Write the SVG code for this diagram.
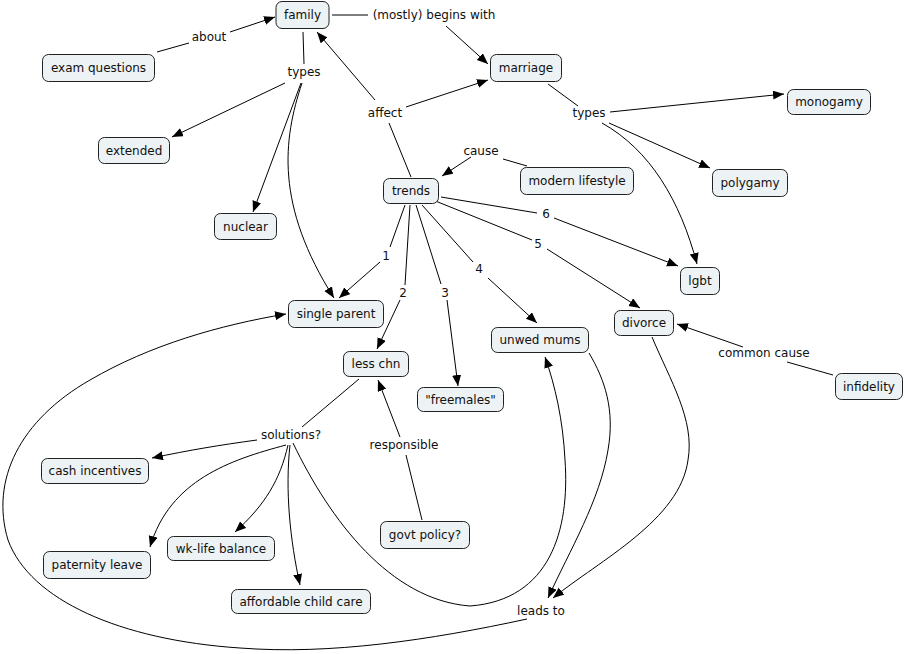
<svg xmlns="http://www.w3.org/2000/svg" width="905" height="654" viewBox="0 0 905 654">
<defs>
<marker id="ah" markerUnits="userSpaceOnUse" markerWidth="12" markerHeight="10" refX="11" refY="4.5" orient="auto">
<path d="M0,0 L11,4.5 L0,9 z" fill="#000"/>
</marker>
<style>
.n rect{fill:#edf2f4;stroke:#222;stroke-width:1}
text{font-family:"DejaVu Sans",Verdana,sans-serif;font-size:12px;fill:#111;text-anchor:middle}
#connectors path{fill:none;stroke:#000;stroke-width:1}
#connectors .a{marker-end:url(#ah)}
</style>
</defs>
<rect width="905" height="654" fill="#fff"/>
<g id="connectors">
<path d="M157,52 L189,43"/>
<path class="a" d="M230,32 L275,17"/>
<path d="M332,15 L368,15"/>
<path class="a" d="M446,26 L488,64"/>
<path d="M303,32 L304,64"/>
<path class="a" d="M285,83 L172,137"/>
<path class="a" d="M301,83 L253,212"/>
<path class="a" d="M302,83 C283,140 275,205 334,298"/>
<path d="M411,177 L389,123"/>
<path class="a" d="M375,100 L317,32"/>
<path class="a" d="M406,107 L488,80"/>
<path d="M548,84 L578,106"/>
<path class="a" d="M610,112 L784,94"/>
<path class="a" d="M609,123 L710,168"/>
<path class="a" d="M602,123 C650,150 680,200 697,264"/>
<path d="M527,166 L503,159"/>
<path class="a" d="M471,157 L442,176"/>
<path d="M405,205 L390,247"/>
<path class="a" d="M380,262 L339,298"/>
<path d="M410,205 L405,285"/>
<path class="a" d="M400,300 L377,349"/>
<path d="M416,205 L441,284"/>
<path class="a" d="M447,300 L458,386"/>
<path d="M422,205 L473,262"/>
<path class="a" d="M488,278 L537,323"/>
<path d="M433,200 L532,240"/>
<path class="a" d="M547,249 L640,308"/>
<path d="M441,197 L537,213"/>
<path class="a" d="M554,218 L678,266"/>
<path d="M833,375 L787,362"/>
<path class="a" d="M743,347 L677,324"/>
<path d="M359,379 L302,427"/>
<path d="M422,520 L406,455"/>
<path class="a" d="M400,437 L378,380"/>
<path class="a" d="M257,440 C220,445 190,450 152,458"/>
<path class="a" d="M286,445 C230,460 170,480 150,547"/>
<path class="a" d="M288,445 C280,480 265,505 235,532"/>
<path class="a" d="M290,445 C285,490 290,540 300,585"/>
<path class="a" d="M293,443 C330,520 390,600 470,606 C550,600 570,530 565,460 C563,420 555,385 545,357"/>
<path class="a" d="M589,353 C605,380 615,410 608,450 C600,500 570,550 548,598"/>
<path class="a" d="M652,337 C670,380 695,420 688,460 C680,520 600,560 553,598"/>
<path class="a" d="M527,619 C430,640 330,655 240,648 C120,640 30,600 8,540 C-10,480 20,420 90,380 C150,345 220,325 286,314"/>
</g>
<g id="family" class="n"><rect x="276" y="1.5" width="53" height="27" rx="6"/><text x="302.5" y="19">family</text></g>
<g id="exam-questions" class="n"><rect x="42.5" y="54.5" width="112" height="27" rx="6"/><text x="98.5" y="72">exam questions</text></g>
<g id="extended" class="n"><rect x="98.5" y="137.5" width="71" height="26" rx="6"/><text x="134" y="155">extended</text></g>
<g id="marriage" class="n"><rect x="490.5" y="54.5" width="71" height="27" rx="6"/><text x="526" y="72">marriage</text></g>
<g id="monogamy" class="n"><rect x="787.5" y="89.5" width="83" height="25" rx="6"/><text x="829" y="106">monogamy</text></g>
<g id="modern-lifestyle" class="n"><rect x="520.5" y="167.5" width="113" height="27" rx="6"/><text x="577" y="185">modern lifestyle</text></g>
<g id="polygamy" class="n"><rect x="712.5" y="169.5" width="75" height="27" rx="6"/><text x="750" y="187">polygamy</text></g>
<g id="trends" class="n"><rect x="383.5" y="178.5" width="55" height="25" rx="6"/><text x="411" y="195">trends</text></g>
<g id="nuclear" class="n"><rect x="214.5" y="213.5" width="62" height="26" rx="6"/><text x="245.5" y="231">nuclear</text></g>
<g id="single-parent" class="n"><rect x="288.5" y="300.5" width="95" height="27" rx="6"/><text x="336" y="318">single parent</text></g>
<g id="less-chn" class="n"><rect x="343.5" y="351.5" width="65" height="25" rx="6"/><text x="376" y="368">less chn</text></g>
<g id="freemales" class="n"><rect x="417.5" y="387.5" width="86" height="24" rx="6"/><text x="460.5" y="404">"freemales"</text></g>
<g id="lgbt" class="n"><rect x="680.5" y="267.5" width="39" height="27" rx="6"/><text x="700" y="285">lgbt</text></g>
<g id="divorce" class="n"><rect x="614.5" y="310.5" width="59" height="25" rx="6"/><text x="644" y="327">divorce</text></g>
<g id="unwed-mums" class="n"><rect x="491.5" y="327.5" width="97" height="25" rx="6"/><text x="540" y="344">unwed mums</text></g>
<g id="infidelity" class="n"><rect x="835.5" y="373.5" width="67" height="26" rx="6"/><text x="869" y="391">infidelity</text></g>
<g id="cash-incentives" class="n"><rect x="41.5" y="458.5" width="107" height="25" rx="6"/><text x="95" y="475">cash incentives</text></g>
<g id="paternity-leave" class="n"><rect x="43.5" y="551.5" width="107" height="27" rx="6"/><text x="97" y="569">paternity leave</text></g>
<g id="wk-life-balance" class="n"><rect x="167.5" y="536.5" width="107" height="24" rx="6"/><text x="221" y="553">wk-life balance</text></g>
<g id="affordable-child-care" class="n"><rect x="231.5" y="589.5" width="139" height="24" rx="6"/><text x="301" y="606">affordable child care</text></g>
<g id="govt-policy" class="n"><rect x="380.5" y="521.5" width="89" height="27" rx="6"/><text x="425" y="539">govt policy?</text></g>
<g id="labels">
<text x="209" y="41">about</text>
<text x="434" y="19">(mostly) begins with</text>
<text x="304" y="76">types</text>
<text x="385" y="117">affect</text>
<text x="589" y="117">types</text>
<text x="481" y="155">cause</text>
<text x="386" y="260">1</text>
<text x="403" y="297">2</text>
<text x="445" y="297">3</text>
<text x="479" y="273">4</text>
<text x="538" y="248">5</text>
<text x="546" y="218">6</text>
<text x="764" y="357">common cause</text>
<text x="291" y="439">solutions?</text>
<text x="404" y="449">responsible</text>
<text x="541" y="615">leads to</text>
</g>
</svg>
